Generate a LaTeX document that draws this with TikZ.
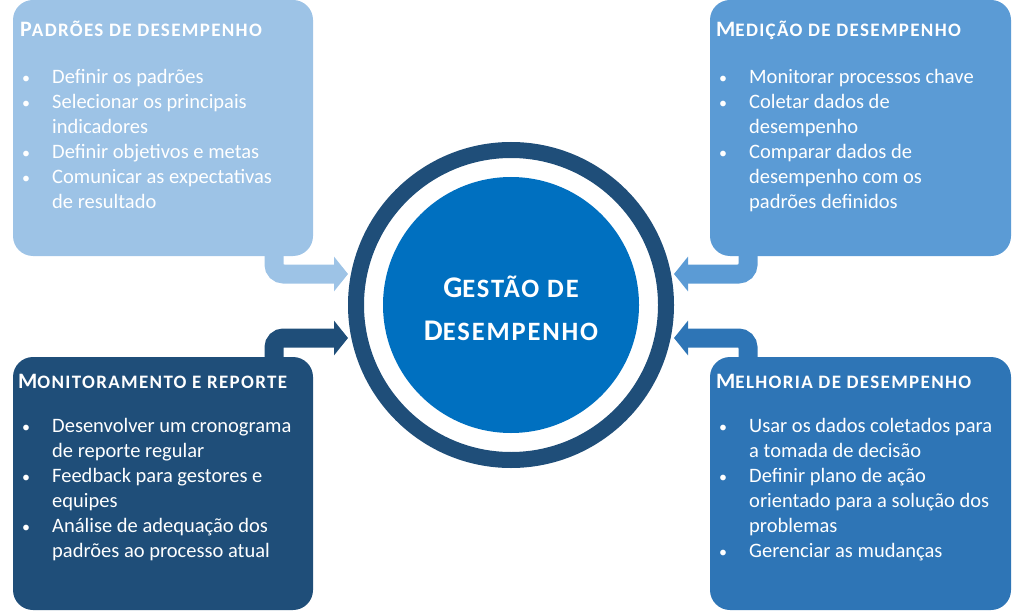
\documentclass[tikz,border=0pt]{standalone}
\usepackage{fontspec}
\setmainfont{Carlito}
\newfontfamily\scfont[LetterSpace=7]{Carlito}
\usetikzlibrary{arrows.meta}
\definecolor{cTL}{HTML}{9DC3E6}
\definecolor{cTR}{HTML}{5B9BD5}
\definecolor{cBL}{HTML}{1F4E79}
\definecolor{cBR}{HTML}{2E75B6}
\definecolor{cRing}{HTML}{1F4E79}
\definecolor{cCore}{HTML}{0070C0}
\newcommand\mysc[4]{{\fontsize{#1}{#1}\selectfont #3}{\fontsize{#2}{#2}\selectfont #4}}
\newcommand\bul{\hspace*{-3pt}{\fontsize{16}{16}\selectfont •}}
\tikzset{
  panel/.style={rectangle, rounded corners=20pt, inner sep=0pt, outer sep=0pt, draw=none},
  ttl/.style={anchor=base west, inner sep=0pt, text=white, font=\scfont\bfseries},
  body/.style={anchor=north west, inner sep=0pt, text=white, font=\fontsize{20.5}{25}\selectfont},
  bent/.style={line width=19pt, rounded corners=9.5pt, -{Triangle[length=14pt,width=34pt]}},
}
\begin{document}
\begin{tikzpicture}[x=1pt,y=-1pt]
\useasboundingbox (0,0) rectangle (1024,612);
% panels
\node[panel, fill=cTL, minimum width=300pt, minimum height=256pt] (tl) at (163,128) {};
\node[panel, fill=cTR, minimum width=301pt, minimum height=256pt] (tr) at (860.5,128) {};
\node[panel, fill=cBL, minimum width=300pt, minimum height=253pt] (bl) at (163,483.5) {};
\node[panel, fill=cBR, minimum width=301pt, minimum height=253pt] (br) at (860.5,483.5) {};
% centre
\node[circle, draw=cRing, line width=16pt, minimum size=310pt, inner sep=0pt] (ring) at (511,305) {};
\node[circle, fill=cCore, minimum size=256pt, inner sep=0pt] (core) at (511,305) {};
\node[inner sep=0pt, text=white, align=center,
      font=\scfont\bfseries\fontsize{30}{43}\selectfont] (coreT) at (511,308)
      {\mysc{30}{26.5}{G}{ESTÃO DE}\\\mysc{30}{26.5}{D}{ESEMPENHO}};
% bent arrows
\draw[bent, cTL] ([xshift=261pt,yshift=6pt]tl.south west) |- ([yshift=31pt]ring.west);
\draw[bent, cBL] ([xshift=261pt,yshift=-6pt]bl.north west) |- ([yshift=-33pt]ring.west);
\draw[bent, cTR] ([xshift=38pt,yshift=6pt]tr.south west) |- ([yshift=31pt]ring.east);
\draw[bent, cBR] ([xshift=38pt,yshift=-6pt]br.north west) |- ([yshift=-33pt]ring.east);
% titles
\node[ttl] (tlT) at (20,37) {\mysc{22}{19}{P}{ADRÕES DE DESEMPENHO}};
\node[ttl] (trT) at (716,37) {\mysc{22}{19}{M}{EDIÇÃO DE DESEMPENHO}};
\node[ttl] (blT) at (18,388) {\mysc{22}{19}{M}{ONITORAMENTO E REPORTE}};
\node[ttl] (brT) at (716,388) {\mysc{22}{19}{M}{ELHORIA DE DESEMPENHO}};
% bodies
\node[body] (tlB) at (25,65.5) {\begin{tabular}{@{}p{27pt}@{}l@{}}
\bul& Definir os padrões\\
\bul& Selecionar os principais\\
 & indicadores\\
\bul& Definir objetivos e metas\\
\bul& Comunicar as expectativas\\
 & de resultado
\end{tabular}};
\node[body] (trB) at (722,65.5) {\begin{tabular}{@{}p{27pt}@{}l@{}}
\bul& Monitorar processos chave\\
\bul& Coletar dados de\\
 & desempenho\\
\bul& Comparar dados de\\
 & desempenho com os\\
 & padrões definidos
\end{tabular}};
\node[body] (blB) at (25,414.5) {\begin{tabular}{@{}p{27pt}@{}l@{}}
\bul& Desenvolver um cronograma\\
 & de reporte regular\\
\bul& Feedback para gestores e\\
 & equipes\\
\bul& Análise de adequação dos\\
 & padrões ao processo atual
\end{tabular}};
\node[body] (brB) at (722,414.5) {\begin{tabular}{@{}p{27pt}@{}l@{}}
\bul& Usar os dados coletados para\\
 & a tomada de decisão\\
\bul& Definir plano de ação\\
 & orientado para a solução dos\\
 & problemas\\
\bul& Gerenciar as mudanças
\end{tabular}};
\end{tikzpicture}
\end{document}
